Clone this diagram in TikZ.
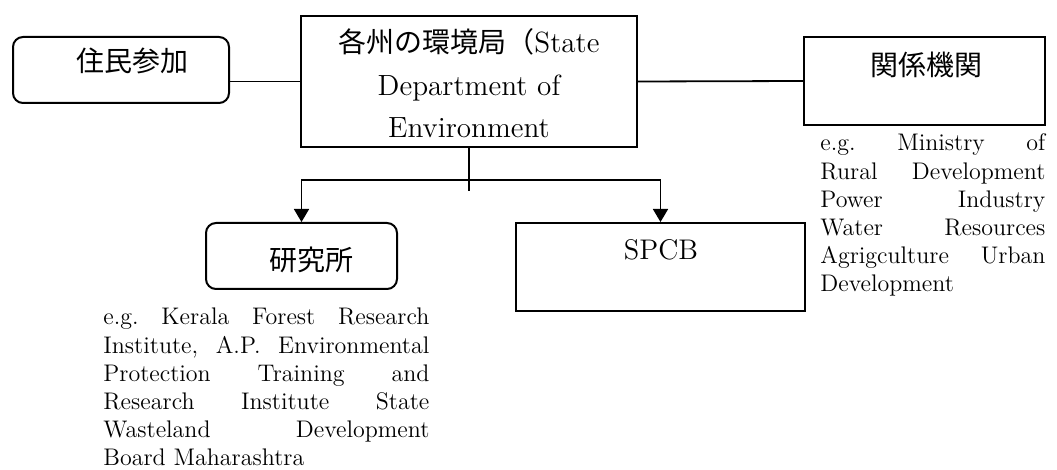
\documentclass[tikz,border=0pt]{standalone}
\usepackage{fontspec}
\newfontfamily\jpfont{Noto Sans CJK JP}
\usetikzlibrary{arrows.meta}
\frenchspacing

\begin{document}
\begin{tikzpicture}[x=0.5pt,y=-0.5pt]
  \tikzstyle{box}=[draw,line width=1pt,inner sep=0pt]
  \tikzstyle{rbox}=[box,rounded corners=5pt]
  \tikzstyle{jp}=[font=\jpfont\fontsize{14}{17}\selectfont,inner sep=0pt]
  \tikzstyle{note}=[font=\fontsize{12}{14.1}\selectfont,align=justify,inner sep=0pt,anchor=base west]
  \tikzstyle{link}=[line width=0.9pt]
  \tikzstyle{arr}=[link,-{Triangle[width=7.5pt,length=6.5pt]}]
\useasboundingbox (0,0) rectangle (1057,470);
% boxes
\node[rbox,minimum width=108pt,minimum height=33pt] (jumin) at (121,70) {};
\node[jp] (jumin-t) at (132,61) {住民参加};
\node[box,minimum width=168pt,minimum height=65.5pt] (sde) at (469,81.5) {};
\node[font=\fontsize{14.6}{21.25}\selectfont,text width=168pt,align=center,inner sep=0pt,anchor=base] (sde-t) at (469,53)
  {{\jpfont\fontsize{14}{21.25}\selectfont 各州の環境局（}State\\Department of\\Environment};
\node[box,minimum width=120.5pt,minimum height=44pt] (kankei) at (924.5,81) {};
\node[jp] (kankei-t) at (926,65) {関係機関};
\node[rbox,minimum width=95.5pt,minimum height=33pt] (kenkyu) at (301.5,256) {};
\node[jp] (kenkyu-t) at (311.5,259.5) {研究所};
\node[box,minimum width=144.5pt,minimum height=44pt] (spcb) at (660.5,267) {};
\node[font=\fontsize{14.2}{17}\selectfont,inner sep=0pt,anchor=base] (spcb-t) at (661,260) {SPCB};
% examples
\node[note,text width=163pt] (kenkyu-eg) at (103,325)
  {e.g. Kerala Forest Research\linebreak Institute, A.P. Environmental\linebreak Protection Training and\linebreak
   Research Institute State\linebreak Wasteland Development\linebreak Board Maharashtra};
\node[note,text width=112.5pt] (kankei-eg) at (820,151)
  {e.g. Ministry of\linebreak Rural Development\linebreak Power Industry\linebreak Water Resources\linebreak
   Agrigculture Urban\linebreak Development};
% connectors
\coordinate (split) at (469,180);
\coordinate (stub) at (469,191);
\draw[link] (jumin.east |- sde.west) -- (sde.west);
\draw[link] (sde.east) -- (kankei.west);
\draw[link] (sde.south) -- (stub);
\draw[arr] (split) -| (kenkyu.north);
\draw[arr] (split) -| (spcb.north);
\end{tikzpicture}
\end{document}
